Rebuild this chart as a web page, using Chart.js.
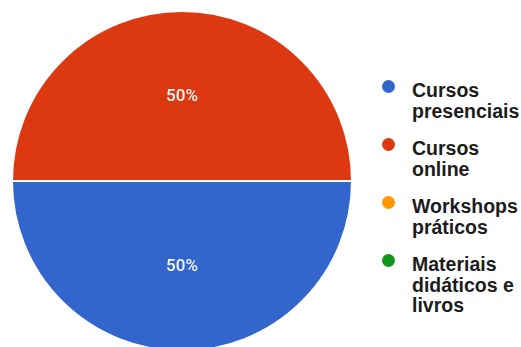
<!DOCTYPE html>
<html>
<head>
<meta charset="utf-8">
<script src="https://cdn.jsdelivr.net/npm/chart.js@4"></script>
<style>
    html, body { margin: 0; padding: 0; background: #fff; width: 521px; height: 347px; overflow: hidden; }
    #pie-box { position: absolute; left: 0; top: 0; width: 366px; height: 364px; }
    #legend { position: absolute; left: 381px; top: 80px; margin: 0; padding: 0; list-style: none;
        font-family: "Liberation Sans", Arial, sans-serif; font-weight: bold; font-size: 19.5px;
        line-height: 20.5px; color: #1c1c1c; white-space: nowrap; }
    #legend li { position: relative; padding-left: 31px; margin-bottom: 17px; }
    #legend .dot { position: absolute; left: 1px; top: 0px; width: 13px; height: 13px; border-radius: 50%; }
</style>
</head>
<body>
<div id="pie-box"><canvas id="pieChart"></canvas></div>
<ul id="legend"></ul>
<script>
const categories = ["Cursos presenciais", "Cursos online", "Workshops práticos", "Materiais didáticos e livros"];
const legendLines = [["Cursos", "presenciais"], ["Cursos", "online"], ["Workshops", "práticos"], ["Materiais", "didáticos e", "livros"]];
const values = [50, 50, 0, 0];
const colors = ["#3366cc", "#dc3912", "#ff9900", "#109618"];

// percent text in the middle of each slice
const sliceLabels = {
    id: "sliceLabels",
    afterDatasetsDraw(chart) {
        const ctx = chart.ctx;
        const total = values.reduce((a, b) => a + b, 0);
        ctx.save();
        ctx.fillStyle = "#f4f4f4";
        ctx.font = "500 17px Roboto, 'Liberation Sans', sans-serif";
        ctx.textAlign = "center";
        ctx.textBaseline = "middle";
        chart.getDatasetMeta(0).data.forEach((arc, i) => {
            if (!values[i]) return;
            const pos = arc.tooltipPosition();
            ctx.fillText(Math.round(values[i] / total * 100) + "%", pos.x, pos.y + 1);
        });
        ctx.restore();
    }
};

const chart = new Chart(document.getElementById("pieChart").getContext("2d"), {
    type: "pie",
    data: {
        labels: categories,
        datasets: [{
            data: values,
            backgroundColor: colors,
            borderColor: "#fff",
            borderWidth: 2
        }]
    },
    options: {
        responsive: true,
        maintainAspectRatio: false,
        animation: false,
        rotation: 90,
        layout: { padding: { left: 11, top: 10, right: 13, bottom: 12 } },
        plugins: { legend: { display: false }, tooltip: { enabled: false } }
    },
    plugins: [sliceLabels]
});

const legend = document.getElementById("legend");
categories.forEach((name, i) => {
    const li = document.createElement("li");
    const dot = document.createElement("span");
    dot.className = "dot";
    dot.style.background = colors[i];
    li.appendChild(dot);
    legendLines[i].forEach((line, j) => {
        if (j) li.appendChild(document.createElement("br"));
        li.appendChild(document.createTextNode(line));
    });
    legend.appendChild(li);
});
</script>
</body>
</html>
